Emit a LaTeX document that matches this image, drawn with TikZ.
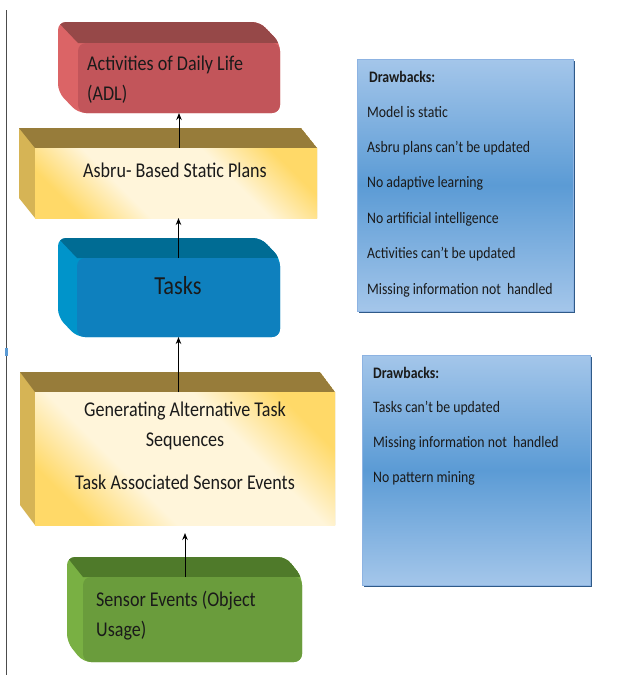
\documentclass[tikz,border=0pt]{standalone}
\usepackage{fontspec}
\setmainfont{Carlito}[FakeStretch=0.86]
\usetikzlibrary{arrows.meta,backgrounds,calc}
\definecolor{adlF}{HTML}{C2555A}
\definecolor{adlT}{HTML}{964848}
\definecolor{adlS}{HTML}{DB6466}
\definecolor{yelT}{HTML}{977C3A}
\definecolor{yelS}{HTML}{D6B455}
\definecolor{yelG}{HTML}{FFD968}
\definecolor{yelL}{HTML}{FFF5DA}
\definecolor{tskF}{HTML}{0E80BE}
\definecolor{tskT}{HTML}{006C94}
\definecolor{tskS}{HTML}{0094CA}
\definecolor{senF}{HTML}{6A9C3C}
\definecolor{senT}{HTML}{4F7A2A}
\definecolor{senS}{HTML}{79B043}
\definecolor{bluL}{HTML}{A4C6EA}
\definecolor{bluD}{HTML}{5B9BD5}
\definecolor{bluB}{HTML}{8DB3E2}
\definecolor{bluSh}{HTML}{2F5A88}
\definecolor{ink}{HTML}{1A1A1A}
\pgfdeclareverticalshading{goldband}{100bp}{color(0bp)=(yelG); color(24bp)=(yelG); color(38bp)=(yelL); color(62bp)=(yelL); color(76bp)=(yelG); color(100bp)=(yelG)}
\newcommand\bevelbox[6]{%
\begin{pgfonlayer}{background}
\fill[#5,#6] ($(#1.north west)+(-#2,-#3)$) -- ($(#1.north east)+(-#2,-#3)$) -- (#1.north east) -- (#1.south east) -- (#1.south west) -- ($(#1.south west)+(-#2,-#3)$) -- cycle;
\begin{scope}
\clip[#6] ($(#1.north west)+(-#2,-#3)$) -- ($(#1.north east)+(-#2,-#3)$) -- (#1.north east) -- (#1.south east) -- (#1.south west) -- ($(#1.south west)+(-#2,-#3)$) -- cycle;
\fill[#4] ($(#1.north west)+(-#2,-#3)$) -- ($(#1.north east)+(-#2,-#3)$) -- (#1.north east) -- (#1.north west) -- cycle;
\end{scope}
\end{pgfonlayer}}
\begin{document}
\begin{tikzpicture}[x=1pt,y=-1pt,
  front/.style={rectangle, outer sep=0pt, inner sep=0pt, draw=none},
  rnd/.style={rounded corners=8pt},
  txt/.style={text=ink, font=\fontsize{21}{30}\selectfont, inner sep=0pt},
  dtxt/.style={text=ink, font=\fontsize{16}{20}\selectfont, inner sep=0pt, anchor=west},
  arr/.style={draw=black, line width=1pt, -{Stealth[length=7pt,width=5.5pt]}},
  gold/.style={shading=goldband, shading angle=-45},
  blue/.style={shading=axis, top color=bluL, bottom color=bluL, middle color=bluD, draw=bluB, line width=0.6pt}
]
\begin{pgfonlayer}{background}
\fill[white] (0,0) rectangle (637,675);
\end{pgfonlayer}
\useasboundingbox (0,0) rectangle (637,675);

% left rule
\draw[black!70, line width=1pt] (6,10) -- (6,675);
\fill[bluD] (5,348) rectangle (8,356);

% front faces
\node[front, rnd, fill=adlF, minimum width=202, minimum height=70] (adl) at (179,78) {};
\node[front, gold, minimum width=282, minimum height=70] (asbru) at (176,183) {};
\node[front, rnd, fill=tskF, minimum width=203, minimum height=79] (tasks) at (178.5,297.5) {};
\node[front, gold, minimum width=300, minimum height=133] (gen) at (185,458.5) {};
\node[front, rnd, fill=senF, minimum width=219, minimum height=85] (sensor) at (192.5,619.5) {};

\bevelbox{adl}{20}{21}{adlT}{adlS}{rounded corners=8pt}
\bevelbox{asbru}{16}{20}{yelT}{yelS}{sharp corners}
\bevelbox{tasks}{19}{20}{tskT}{tskS}{rounded corners=8pt}
\bevelbox{gen}{15}{20}{yelT}{yelS}{sharp corners}
\bevelbox{sensor}{16}{20}{senT}{senS}{rounded corners=8pt}

% texts
\node[txt, anchor=west, align=left] (adlt) at (87,80) {Activities of Daily Life\\(ADL)};
\node[txt] (asbrut) at (175,170) {Asbru- Based Static Plans};
\node[txt, font=\fontsize{26}{30}\selectfont] (taskst) at (178,286) {Tasks};
\node[txt, align=center] (gent) at (185,446) {Generating Alternative Task\\Sequences\\[13pt]Task Associated Sensor Events};
\node[txt, anchor=west, align=left] (sensort) at (96,616) {Sensor Events (Object\\Usage)};

% connectors
\draw[arr] (asbru.north -| adl.south) -- (adl.south);
\draw[arr] (tasks.north) -- (tasks.north |- asbru.south);
\draw[arr] (gen.north -| tasks.south) -- (tasks.south);
\draw[arr, shorten >=8pt] (sensor.north -| gen.south) -- (gen.south);

% drawbacks boxes
\fill[bluSh] (359,61) rectangle (575,313);
\node[front, blue, minimum width=216, minimum height=252] (db1) at (465,185) {};
\fill[bluSh] (364,357) rectangle (592,587);
\node[front, blue, minimum width=228, minimum height=230] (db2) at (476,470) {};

\node[dtxt, font=\bfseries\fontsize{16}{20}\selectfont] (db1h) at (369,77) {Drawbacks:};
\foreach \t [count=\i] in {Model is static, Asbru plans can’t be updated, No adaptive learning, No artificial intelligence, Activities can’t be updated, Missing information not\ \ handled}
  \node[dtxt] (db1l\i) at (367,77+35.5*\i) {\t};

\node[dtxt, font=\bfseries\fontsize{16}{20}\selectfont] (db2h) at (373,373) {Drawbacks:};
\foreach \t [count=\i] in {Tasks can’t be updated, Missing information not\ \ handled, No pattern mining}
  \node[dtxt] (db2l\i) at (373,373+35*\i) {\t};
\end{tikzpicture}
\end{document}
